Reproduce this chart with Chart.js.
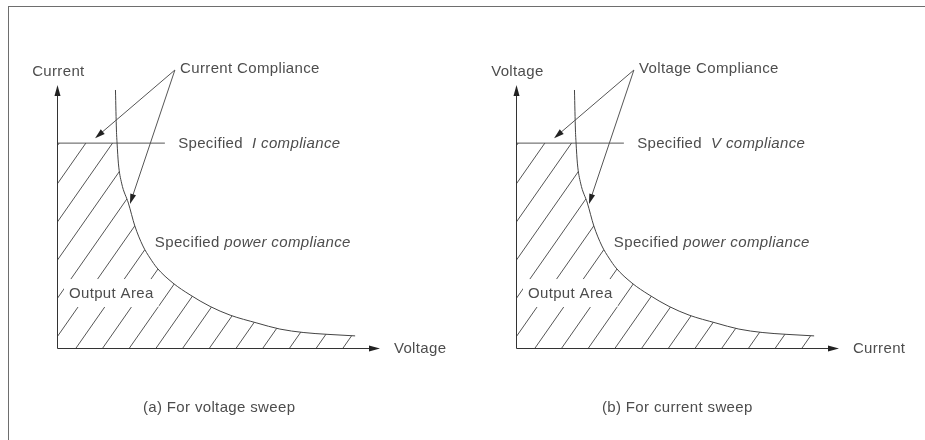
<!DOCTYPE html>
<html>
<head>
<meta charset="utf-8">
<script src="https://cdn.jsdelivr.net/npm/chart.js@4.4.1/dist/chart.umd.min.js"></script>
<style>
  html, body { margin: 0; padding: 0; background: #fff; }
  #wrap { position: relative; width: 925px; height: 440px; overflow: hidden; background: #fff; }
  #frame { position: absolute; left: 8px; top: 6px; right: -2px; bottom: -2px;
           border-top: 1px solid #6e6e6e; border-left: 1px solid #6e6e6e; }
  canvas { position: absolute; top: 0; }
  #panelA { left: 0; }
  #panelB { left: 459px; }
</style>
</head>
<body>
<div id="wrap">
  <div id="frame"></div>
  <canvas id="panelA" width="460" height="440"></canvas>
  <canvas id="panelB" width="460" height="440"></canvas>
</div>
<script>
// power compliance boundary, axis units (both axes run 0..10)
const curveX = [1.81, 1.84, 1.86, 1.90, 2.00, 2.21, 2.41, 2.66, 2.88, 3.10, 3.59, 4.12, 4.74, 5.36, 6.19, 6.90, 7.62, 8.36, 9.23];
const curveY = [9.81, 8.29, 7.79, 7.03, 6.27, 5.51, 4.64, 3.88, 3.42, 3.04, 2.47, 2.02, 1.58, 1.25, 0.95, 0.72, 0.59, 0.52, 0.46];

// specified I / V compliance level and where its marker line stops
const complianceLevel = 7.79;
const complianceLineEnd = 3.34;

// callout arrows: one start, two heads (compliance line, power curve)
const calloutFrom = [3.65, 10.57];
const calloutTo = [[1.18, 7.98], [2.26, 5.48]];

const axisMax = 10;

const panels = [
  { id: 'panelA', yTitle: 'Current', xTitle: 'Voltage', callout: 'Current Compliance',
    symbol: 'I', caption: '(a) For voltage sweep' },
  { id: 'panelB', yTitle: 'Voltage', xTitle: 'Current', callout: 'Voltage Compliance',
    symbol: 'V', caption: '(b) For current sweep' }
];

const FONT = '"Liberation Sans", Arial, sans-serif';
const INK = '#4d4d4d';
const HATCH_GAP = 26.7;     // px between hatch lines along the x axis
const HATCH_SLOPE = 1.43;   // rise over run, px
const HATCH_START = 0.59;   // first hatch line crosses the x axis here (axis units)

function setFont(ctx, italic) {
  ctx.font = (italic ? 'italic ' : '') + '15px ' + FONT;
  ctx.letterSpacing = '0.35px';
}

function arrowHead(ctx, x1, y1, x2, y2, len, half) {
  const a = Math.atan2(y2 - y1, x2 - x1);
  const c = Math.cos(a), s = Math.sin(a);
  ctx.beginPath();
  ctx.moveTo(x2, y2);
  ctx.lineTo(x2 - len * c + half * s, y2 - len * s - half * c);
  ctx.lineTo(x2 - len * c - half * s, y2 - len * s + half * c);
  ctx.closePath();
  ctx.fill();
}

function arrow(ctx, x1, y1, x2, y2, len, half) {
  const a = Math.atan2(y2 - y1, x2 - x1);
  ctx.beginPath();
  ctx.moveTo(x1, y1);
  ctx.lineTo(x2 - Math.cos(a) * len * 0.6, y2 - Math.sin(a) * len * 0.6);
  ctx.stroke();
  arrowHead(ctx, x1, y1, x2, y2, len, half);
}

// path along the drawn power curve, using the line element's control points
function curvePath(ctx, pts) {
  ctx.moveTo(pts[0].x, pts[0].y);
  for (let i = 1; i < pts.length; i++) {
    const p = pts[i - 1], q = pts[i];
    ctx.bezierCurveTo(p.cp2x, p.cp2y, q.cp1x, q.cp1y, q.x, q.y);
  }
}

const diagramPlugin = {
  id: 'diagram',
  beforeDatasetsDraw(chart) {
    const ctx = chart.ctx;
    const xs = chart.scales.x, ys = chart.scales.y;
    const pts = chart.getDatasetMeta(0).data;
    const x0 = xs.getPixelForValue(0), y0 = ys.getPixelForValue(0);
    const yc = ys.getPixelForValue(complianceLevel);
    const last = pts[pts.length - 1];

    // output area: under the power curve and below the compliance line
    ctx.save();
    ctx.beginPath();
    curvePath(ctx, pts);
    ctx.lineTo(last.x, y0);
    ctx.lineTo(x0, y0);
    ctx.lineTo(x0, pts[0].y);
    ctx.closePath();
    ctx.clip();
    ctx.beginPath();
    ctx.rect(x0, yc, last.x - x0, y0 - yc);
    ctx.clip();

    ctx.strokeStyle = '#555';
    ctx.lineWidth = 1;
    const start = xs.getPixelForValue(HATCH_START);
    const h = y0 - chart.chartArea.top + 20;
    ctx.beginPath();
    for (let k = -14; k < 14; k++) {
      const bx = start + k * HATCH_GAP;
      ctx.moveTo(bx, y0);
      ctx.lineTo(bx + h / HATCH_SLOPE, y0 - h);
    }
    ctx.stroke();
    ctx.restore();
  },
  afterDatasetsDraw(chart) {
    const ctx = chart.ctx;
    const cfg = chart.config.options.plugins.diagram;
    const xs = chart.scales.x, ys = chart.scales.y;
    const px = v => xs.getPixelForValue(v);
    const py = v => ys.getPixelForValue(v);
    const x0 = Math.round(px(0)) + 0.5, y0 = Math.round(py(0)) + 0.5;

    ctx.save();
    ctx.strokeStyle = '#333';
    ctx.fillStyle = '#222';
    ctx.lineWidth = 1;

    // axes with arrow heads
    arrow(ctx, x0, y0, px(axisMax), y0, 11, 3);
    arrow(ctx, x0, y0, x0, py(axisMax), 11, 3);

    // callout arrows
    ctx.strokeStyle = '#555';
    for (const [tx, ty] of calloutTo) {
      arrow(ctx, px(calloutFrom[0]), py(calloutFrom[1]), px(tx), py(ty), 10, 3);
    }

    // label behind "Output Area" masks the hatching
    setFont(ctx, false);
    const oaText = 'Output Area';
    const oaX = px(0.37), oaY = py(1.90);
    const w = ctx.measureText(oaText).width;
    ctx.fillStyle = '#fff';
    ctx.fillRect(oaX - 5, oaY - 19, w + 10, 28);

    ctx.fillStyle = INK;
    ctx.textBaseline = 'alphabetic';
    ctx.textAlign = 'left';
    ctx.fillText(oaText, oaX, oaY);
    ctx.fillText(cfg.yTitle, px(-0.77), py(10.34));
    ctx.fillText(cfg.xTitle, px(10.43), py(-0.19));
    ctx.fillText(cfg.callout, px(3.81), py(10.46));
    ctx.fillText(cfg.caption, px(2.66), py(-2.43));

    // mixed upright / italic labels
    const mixed = (x, y, parts) => {
      let cx = x;
      for (const [t, it] of parts) {
        setFont(ctx, it);
        ctx.fillText(t, cx, y);
        cx += ctx.measureText(t).width;
      }
    };
    mixed(px(3.75), py(7.60), [['Specified  ', false], [cfg.symbol + ' compliance', true]]);
    mixed(px(3.03), py(3.84), [['Specified ', false], ['power compliance', true]]);
    ctx.restore();
  }
};

function drawPanel(p) {
  new Chart(document.getElementById(p.id), {
    type: 'line',
    data: {
      datasets: [
        {
          data: curveX.map((x, i) => ({ x: x, y: curveY[i] })),
          borderColor: '#444',
          borderWidth: 1,
          pointRadius: 0,
          cubicInterpolationMode: 'monotone',
          clip: false
        },
        {
          data: [{ x: 0, y: complianceLevel }, { x: complianceLineEnd, y: complianceLevel }],
          borderColor: '#555',
          borderWidth: 1,
          pointRadius: 0,
          clip: false
        }
      ]
    },
    options: {
      responsive: false,
      animation: false,
      events: [],
      layout: { padding: { left: 57, right: 80, top: 85, bottom: 92 } },
      scales: {
        x: { type: 'linear', min: 0, max: axisMax, display: false },
        y: { type: 'linear', min: 0, max: axisMax, display: false }
      },
      plugins: {
        legend: { display: false },
        tooltip: { enabled: false },
        diagram: p
      }
    },
    plugins: [diagramPlugin]
  });
}

panels.forEach(drawPanel);
</script>
</body>
</html>
